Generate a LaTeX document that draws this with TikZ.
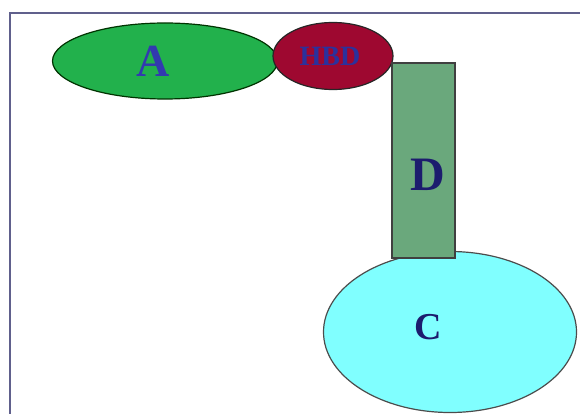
\documentclass[tikz,border=0pt]{standalone}
\usepackage{fontspec}
\setmainfont{Liberation Serif}
\usepackage{tikz}
\definecolor{agreen}{RGB}{34,177,76}
\definecolor{hbdred}{RGB}{158,8,48}
\definecolor{dgreen}{RGB}{106,168,124}
\definecolor{ccyan}{RGB}{128,255,255}
\definecolor{navy}{RGB}{28,28,110}
\definecolor{letterblue}{RGB}{50,58,175}
\definecolor{frameblue}{RGB}{96,96,140}
\tikzstyle{ell}=[ellipse, draw=black!85, line width=1.2pt, inner sep=0pt]
\tikzstyle{block}=[rectangle, draw=black!75, line width=1.2pt, inner sep=0pt]
\tikzstyle{lbl}=[font=\bfseries, text=navy, inner sep=0pt]
\usetikzlibrary{shapes.geometric,positioning}

\begin{document}
\begin{tikzpicture}[x=1pt,y=-1pt]
    \useasboundingbox (0,0) rectangle (580,414);
    \draw[frameblue, line width=2.8pt] (10,414) -- (10,13) -- (580,13);
    \node (A) [ell, fill=agreen, draw=black!80!green, minimum width=225, minimum height=76] at (165,61) {};
    \node (Atxt) [lbl, text=letterblue, font=\bfseries\fontsize{46}{46}\selectfont] at (153,61) {A};
    \node (hbd) [ell, fill=hbdred, minimum width=120, minimum height=67] at (333,56) {};
    \node (hbdtxt) [lbl, text=letterblue!70!navy, font=\bfseries\fontsize{28}{28}\selectfont] at (330,56) {HBD};
    \node (C) [ell, fill=ccyan, draw=black!70, minimum width=253, minimum height=161] at (450,332) {};
    \node (D) [block, fill=dgreen, minimum width=63, minimum height=195] at (423.5,160.5) {};
    \node (Dtxt) [lbl, font=\bfseries\fontsize{48}{48}\selectfont] at (428,175) {D};
    \node (Ctxt) [lbl, font=\bfseries\fontsize{38}{38}\selectfont] at (428,327) {C};
\end{tikzpicture}
\end{document}
